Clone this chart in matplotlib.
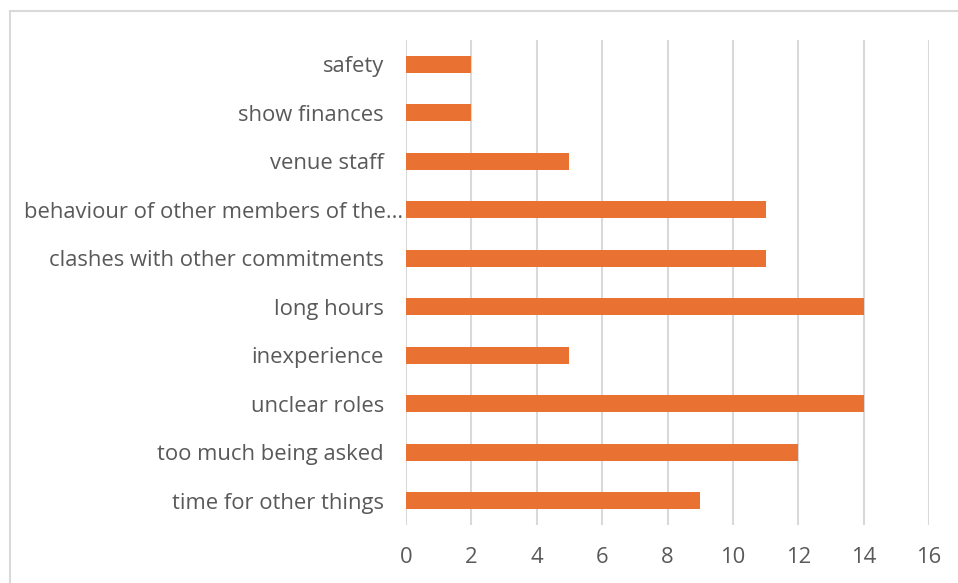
import matplotlib.pyplot as plt
from matplotlib.patches import Rectangle
from matplotlib.transforms import ScaledTranslation

categories = ['time for other things', 'too much being asked', 'unclear roles',
              'inexperience', 'long hours', 'clashes with other commitments',
              'behaviour of other members of the...', 'venue staff',
              'show finances', 'safety']
counts = [9, 12, 14, 5, 14, 11, 11, 5, 2, 2]
xticks = [0, 2, 4, 6, 8, 10, 12, 14, 16]

bar_color = '#E97132'
text_color = '#595959'
grid_color = '#D9D9D9'

plt.rcParams['font.family'] = ['Open Sans', 'DejaVu Sans']

fig = plt.figure(figsize=(9.58, 5.83), dpi=100)
ax = fig.add_axes([406 / 958, 1 - 525 / 583, 523 / 958, 485 / 583])

# chart frame
fig.patches.append(Rectangle((10 / 958, -0.1), 1.2, 1 - 11 / 583 + 0.1,
                             transform=fig.transFigure, fill=False,
                             edgecolor='#D9D9D9', linewidth=1.5))

ax.barh(range(len(categories)), counts, height=0.36, color=bar_color, zorder=3)

ax.set_xlim(0, 16)
ax.set_ylim(-0.5, len(categories) - 0.5)
ax.set_xticks(xticks)
ax.set_yticks(range(len(categories)))
ax.set_yticklabels(categories, va='center_baseline')

ax.grid(axis='x', color=grid_color, linewidth=1.5, zorder=0)
for s in ax.spines.values():
    s.set_visible(False)
ax.tick_params(axis='both', length=0, labelcolor=text_color, labelsize=15.8)
ax.tick_params(axis='y', pad=16)
ax.tick_params(axis='x', pad=16)

# truncated label sits closer to the axis, like Excel does
lab = ax.yaxis.get_major_ticks()[6].label1
lab.set_transform(lab.get_transform() + ScaledTranslation(0.19, 0, fig.dpi_scale_trans))

fig.savefig('out.png', dpi=100)
